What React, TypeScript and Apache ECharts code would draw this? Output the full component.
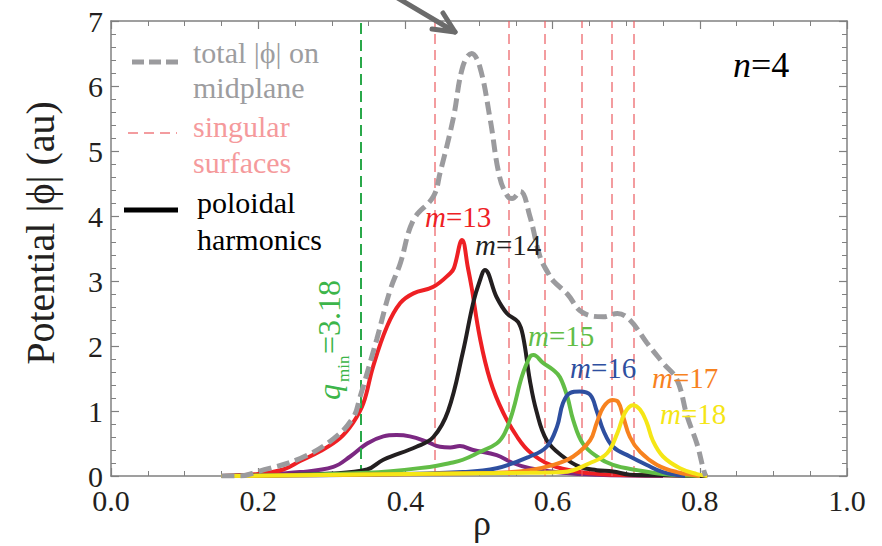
import React, { useEffect, useRef } from "react";
import * as echarts from "echarts";

// ---------- data ----------
const xTicks = [0, 0.2, 0.4, 0.6, 0.8, 1.0];
const yTicks = [0, 1, 2, 3, 4, 5, 6, 7];

const totalRho = [0.15, 0.175, 0.2, 0.257, 0.302, 0.329, 0.338, 0.361, 0.379, 0.393, 0.411, 0.438, 0.447, 0.465, 0.478, 0.49, 0.501, 0.515, 0.528, 0.539, 0.545, 0.556, 0.569, 0.583, 0.594, 0.601, 0.62, 0.64, 0.669, 0.688, 0.705, 0.728, 0.75, 0.769, 0.783, 0.796, 0.805, 0.808];
const totalPhi = [0, 0, 0.07, 0.27, 0.57, 0.9, 1.2, 2.1, 2.85, 3.27, 3.94, 4.3, 4.66, 5.5, 6.3, 6.5, 6.3, 5.5, 4.6, 4.3, 4.27, 4.38, 4.0, 3.37, 3.12, 3.0, 2.8, 2.52, 2.45, 2.5, 2.4, 2.05, 1.74, 1.48, 0.91, 0.5, 0.1, 0];

const m12Rho = [0.15, 0.2, 0.257, 0.302, 0.325, 0.348, 0.37, 0.388, 0.406, 0.429, 0.447, 0.461, 0.474, 0.492, 0.524, 0.546, 0.569, 0.614, 0.66, 0.75];
const m12Phi = [0, 0.02, 0.06, 0.14, 0.3, 0.5, 0.61, 0.63, 0.61, 0.53, 0.45, 0.44, 0.46, 0.4, 0.32, 0.2, 0.12, 0.05, 0.02, 0];

const m13Rho = [0.15, 0.2, 0.234, 0.257, 0.284, 0.311, 0.329, 0.343, 0.356, 0.375, 0.393, 0.411, 0.438, 0.461, 0.466, 0.477, 0.485, 0.49, 0.501, 0.515, 0.533, 0.552, 0.569, 0.597, 0.637, 0.682, 0.75, 0.81];
const m13Phi = [0, 0.03, 0.1, 0.23, 0.38, 0.58, 0.82, 1.12, 1.68, 2.3, 2.66, 2.81, 2.91, 3.12, 3.2, 3.63, 3.2, 2.9, 2.14, 1.48, 0.97, 0.6, 0.37, 0.17, 0.06, 0.02, 0.01, 0];

const m14Rho = [0.15, 0.3, 0.348, 0.37, 0.415, 0.438, 0.458, 0.478, 0.492, 0.501, 0.508, 0.524, 0.538, 0.553, 0.56, 0.569, 0.578, 0.592, 0.614, 0.637, 0.66, 0.682, 0.705, 0.75, 0.81];
const m14Phi = [0, 0.04, 0.1, 0.25, 0.45, 0.6, 1.0, 1.9, 2.66, 3.0, 3.17, 2.75, 2.5, 2.37, 2.14, 1.48, 1.0, 0.55, 0.3, 0.14, 0.09, 0.07, 0.02, 0.01, 0];

const m15Rho = [0.15, 0.348, 0.433, 0.461, 0.478, 0.501, 0.524, 0.535, 0.546, 0.558, 0.569, 0.574, 0.587, 0.601, 0.61, 0.62, 0.628, 0.641, 0.66, 0.682, 0.715, 0.75, 0.8];
const m15Phi = [0, 0.05, 0.14, 0.2, 0.25, 0.37, 0.5, 0.66, 1.0, 1.52, 1.83, 1.86, 1.74, 1.63, 1.52, 1.22, 0.86, 0.5, 0.3, 0.17, 0.09, 0.03, 0];

const m16Rho = [0.15, 0.35, 0.478, 0.524, 0.569, 0.592, 0.606, 0.614, 0.624, 0.637, 0.651, 0.66, 0.669, 0.682, 0.705, 0.728, 0.75, 0.78];
const m16Phi = [0, 0.02, 0.06, 0.12, 0.3, 0.45, 0.76, 1.12, 1.28, 1.3, 1.25, 1.0, 0.7, 0.45, 0.3, 0.17, 0.06, 0];

const m17Rho = [0.15, 0.524, 0.569, 0.601, 0.628, 0.651, 0.66, 0.669, 0.681, 0.689, 0.696, 0.705, 0.719, 0.742, 0.769, 0.8];
const m17Phi = [0, 0.05, 0.09, 0.17, 0.3, 0.55, 0.82, 1.06, 1.17, 1.14, 0.91, 0.6, 0.37, 0.17, 0.06, 0];

const m18Rho = [0.15, 0.569, 0.614, 0.651, 0.674, 0.688, 0.698, 0.709, 0.719, 0.728, 0.736, 0.75, 0.773, 0.796, 0.81];
const m18Phi = [0, 0.05, 0.06, 0.2, 0.35, 0.66, 0.97, 1.09, 1.02, 0.82, 0.55, 0.3, 0.12, 0.03, 0];

const singularRho = [0.438, 0.535, 0.594, 0.64, 0.679, 0.713];
const qminRho = [0.335];

const harmonicNames = ["m=12", "m=13", "m=14", "m=15", "m=16", "m=17", "m=18"];
const harmonicColors = ["#7b2882", "#ee2024", "#231f20", "#62bd46", "#2e4fa0", "#f7821f", "#f5e616"];
const harmonicRho = [m12Rho, m13Rho, m14Rho, m15Rho, m16Rho, m17Rho, m18Rho];
const harmonicPhi = [m12Phi, m13Phi, m14Phi, m15Phi, m16Phi, m17Phi, m18Phi];

// ---------- helpers ----------
const zip = (xs: number[], ys: number[]) => xs.map((x, i) => [x, ys[i]]);
const SERIF = "Liberation Serif";
const AXIS_COLOR = "#808080";
const mid = (baseline: number, size: number) => baseline - 0.34 * size;

export default function App() {
  const ref = useRef<HTMLDivElement>(null);

  useEffect(() => {
    if (!ref.current) return;
    const chart = echarts.init(ref.current, undefined, { renderer: "svg" });

    const harmonicSeries = harmonicNames.map((name, i) => ({
      name,
      type: "line",
      data: zip(harmonicRho[i], harmonicPhi[i]),
      showSymbol: false,
      smooth: 0.4,
      z: 3 + i,
      lineStyle: { color: harmonicColors[i], width: 4 },
      itemStyle: { color: harmonicColors[i] },
    }));

    const axisCommon = {
      type: "value",
      axisLine: { show: true, onZero: false, lineStyle: { color: AXIS_COLOR, width: 1.5 } },
      axisTick: { show: true, inside: true, length: 8, lineStyle: { color: AXIS_COLOR, width: 1.2 } },
      minorTick: { show: true, length: 5, lineStyle: { color: AXIS_COLOR, width: 1 } },
      splitLine: { show: false },
      minorSplitLine: { show: false },
    };

    const mLabel = (txt: string, color: string, x: number, baseline: number) => ({
      type: "text",
      x,
      y: mid(baseline, 29),
      z: 50,
      style: {
        text: `{i|m}{r|${txt}}`,
        verticalAlign: "middle",
        align: "left",
        fill: color,
        fontFamily: SERIF,
        fontSize: 29,
        rich: {
          i: { fontFamily: SERIF, fontStyle: "italic", fontSize: 29, fill: color },
          r: { fontFamily: SERIF, fontSize: 29, fill: color },
        },
      },
    });

    const legendText = (txt: string, color: string, x: number, baseline: number) => ({
      type: "text",
      x,
      y: mid(baseline, 30),
      z: 50,
      style: { text: txt, fill: color, fontFamily: SERIF, fontSize: 30, verticalAlign: "middle", align: "left" },
    });

    const tickLabel = {
      show: true,
      color: "#231f20",
      fontFamily: SERIF,
      fontSize: 30,
      lineHeight: 24,
    };

    const option = {
      animation: false,
      backgroundColor: "#ffffff",
      textStyle: { fontFamily: SERIF },
      grid: { left: 111, right: 35, top: 21, bottom: 70, containLabel: false },
      xAxis: [
        {
          ...axisCommon,
          position: "bottom",
          min: 0,
          max: 1,
          interval: 0.2,
          minorTick: { ...axisCommon.minorTick, splitNumber: 4 },
          axisLabel: {
            ...tickLabel,
            margin: 12,
            formatter: (v: number) => v.toFixed(1),
          },
        },
        {
          ...axisCommon,
          position: "top",
          min: 0,
          max: 1,
          interval: 0.2,
          minorTick: { ...axisCommon.minorTick, splitNumber: 4 },
          axisLabel: { show: false },
        },
      ],
      yAxis: [
        {
          ...axisCommon,
          position: "left",
          min: 0,
          max: 7,
          interval: 1,
          minorTick: { ...axisCommon.minorTick, splitNumber: 5 },
          axisLabel: {
            ...tickLabel,
            margin: 8,
            formatter: (v: number) => (yTicks.includes(v) ? String(v) : ""),
          },
        },
        {
          ...axisCommon,
          position: "right",
          min: 0,
          max: 7,
          interval: 1,
          minorTick: { ...axisCommon.minorTick, splitNumber: 5 },
          axisLabel: { show: false },
        },
      ],
      series: [
        ...harmonicSeries,
        {
          name: "total |ϕ| on midplane",
          type: "line",
          data: zip(totalRho, totalPhi),
          showSymbol: false,
          smooth: 0.4,
          z: 12,
          lineStyle: { color: "#9b9b9e", width: 5, type: [13, 6], cap: "butt" },
        },
        {
          name: "singular surfaces",
          type: "line",
          data: [],
          z: 20,
          markLine: {
            silent: true,
            symbol: ["none", "none"],
            label: { show: false },
            lineStyle: { color: "rgba(235,90,95,0.6)", width: 2, type: [10, 6] },
            data: singularRho.map((r) => ({ xAxis: r })),
          },
        },
        {
          name: "qmin",
          type: "line",
          data: [],
          z: 20,
          markLine: {
            silent: true,
            symbol: ["none", "none"],
            label: { show: false },
            lineStyle: { color: "#2aa84a", width: 2, type: [11, 6] },
            data: qminRho.map((r) => ({ xAxis: r })),
          },
        },
      ],
      graphic: [
        // arrow at top
        {
          type: "polyline",
          z: 60,
          shape: { points: [[396, -3], [455, 32]] },
          style: { stroke: "#6b6b6b", lineWidth: 5, lineCap: "round", fill: null },
        },
        {
          type: "polyline",
          z: 60,
          shape: { points: [[443, 13], [455, 32], [432, 29]] },
          style: { stroke: "#6b6b6b", lineWidth: 5, lineCap: "round", lineJoin: "round", fill: null },
        },
        // legend
        {
          type: "line",
          z: 50,
          shape: { x1: 132, y1: 62, x2: 183, y2: 62 },
          style: { stroke: "#9b9b9e", lineWidth: 5, lineDash: [12, 5] },
        },
        legendText("total |ϕ| on", "#9d9d9f", 193, 63),
        legendText("midplane", "#9d9d9f", 193, 98),
        {
          type: "line",
          z: 50,
          shape: { x1: 128, y1: 133, x2: 177, y2: 133 },
          style: { stroke: "rgba(235,90,95,0.6)", lineWidth: 2, lineDash: [10, 6] },
        },
        legendText("singular", "#f59a9c", 193, 137),
        legendText("surfaces", "#f59a9c", 193, 173),
        {
          type: "line",
          z: 50,
          shape: { x1: 124, y1: 210, x2: 178, y2: 210 },
          style: { stroke: "#000000", lineWidth: 5 },
        },
        legendText("poloidal", "#000000", 197, 213),
        legendText("harmonics", "#000000", 197, 250),
        // n = 4
        {
          type: "text",
          x: 733,
          y: mid(77, 36),
          z: 50,
          style: {
            text: "{i|n}{r|=4}",
            verticalAlign: "middle",
            align: "left",
            fontFamily: SERIF,
            fontSize: 36,
            rich: {
              i: { fontFamily: SERIF, fontStyle: "italic", fontSize: 36, fill: "#000" },
              r: { fontFamily: SERIF, fontSize: 36, fill: "#000" },
            },
          },
        },
        // harmonic labels
        mLabel("=13", "#ee2024", 425, 227),
        mLabel("=14", "#231f20", 475, 255),
        mLabel("=15", "#62bd46", 528, 346),
        mLabel("=16", "#2e4fa0", 570, 378),
        mLabel("=17", "#f7821f", 652, 388),
        mLabel("=18", "#f5e616", 660, 424),
        // q_min label (rotated)
        {
          type: "group",
          x: 340,
          y: 400,
          rotation: Math.PI / 2,
          z: 50,
          children: [
            {
              type: "text",
              x: 0,
              y: mid(0, 32),
              style: { text: "q", fill: "#3db54a", fontFamily: SERIF, fontStyle: "italic", fontSize: 32, verticalAlign: "middle", align: "left" },
            },
            {
              type: "text",
              x: 18,
              y: mid(9, 17),
              style: { text: "min", fill: "#3db54a", fontFamily: SERIF, fontSize: 17, verticalAlign: "middle", align: "left" },
            },
            {
              type: "text",
              x: 46,
              y: mid(0, 32),
              style: { text: "=3.18", fill: "#3db54a", fontFamily: SERIF, fontSize: 32, verticalAlign: "middle", align: "left" },
            },
          ],
        },
        // axis titles
        {
          type: "text",
          x: 40,
          y: 233,
          rotation: Math.PI / 2,
          z: 50,
          style: { text: "Potential |ϕ| (au)", fill: "#231f20", fontFamily: SERIF, fontSize: 40, align: "center", verticalAlign: "middle" },
        },
        {
          type: "text",
          x: 482,
          y: mid(535, 36),
          z: 50,
          style: { text: "ρ", fill: "#231f20", fontFamily: SERIF, fontSize: 36, align: "center", verticalAlign: "middle" },
        },
      ],
    };

    chart.setOption(option as any);
    return () => chart.dispose();
  }, []);

  return (
    <div
      ref={ref}
      style={{ position: "fixed", left: 0, top: 0, width: 882, height: 546, background: "#fff" }}
    />
  );
}
